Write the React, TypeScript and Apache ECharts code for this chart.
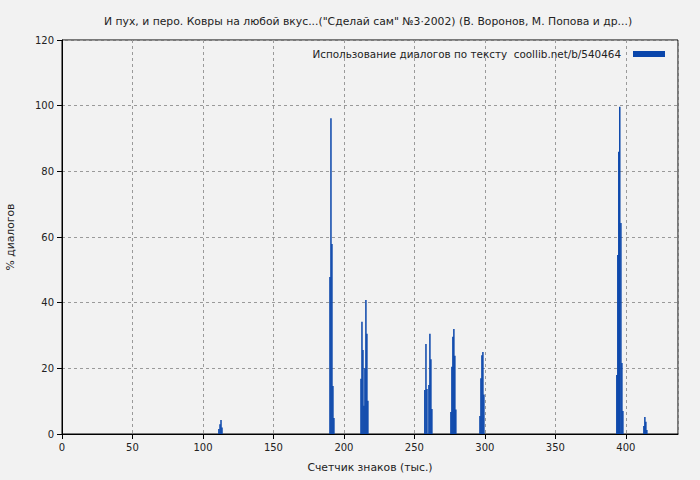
import React, { useEffect, useRef } from "react";
import * as echarts from "echarts";

const title =
  'И пух, и перо. Ковры на любой вкус...("Сделай сам" №3·2002) (В. Воронов, М. Попова и др...)';
const seriesName = "Использование диалогов по тексту  coollib.net/b/540464";
const xAxisName = "Счетчик знаков (тыс.)";
const yAxisName = "% диалогов";

// positions (thousand characters) and dialogue percentage
const xs: number[] = [
  111.3, 112.1, 112.8, 113.5,
  190.1, 190.8, 191.5, 192.2, 192.9,
  212.1, 212.8, 213.5, 214.2, 214.9, 215.6, 216.3, 217.0,
  257.4, 258.2, 258.9, 260.3, 261.0, 261.7, 262.4,
  275.9, 276.6, 277.3, 278.0, 278.7, 279.4,
  296.5, 297.2, 297.9, 298.6, 299.3,
  393.6, 394.3, 395.0, 395.7, 396.5, 397.2, 397.9,
  412.8, 413.5, 414.2, 414.9,
];
const ys: number[] = [
  1.5, 3, 4.3, 2,
  47.8, 96.2, 57.9, 14.6, 4.9,
  16.8, 34.2, 25.6, 8.6, 20, 40.8, 30.5, 10.1,
  13.4, 27.4, 13.7, 14.9, 30.5, 22.8, 7.6,
  6.7, 20.5, 29.6, 32, 23.8, 7.5,
  5.5, 17, 24, 25, 12,
  18, 54.5, 86, 99.7, 64.3, 21.6, 7,
  2.4, 5.2, 3.7, 1.2,
];

const FONT = "DejaVu Sans";

export default function App() {
  const ref = useRef<HTMLDivElement>(null);
  useEffect(() => {
    if (!ref.current) return;
    const chart = echarts.init(ref.current, null, { renderer: "svg" });
    const gridLine = { show: true, lineStyle: { color: "#9a9a9a", type: [3, 3] as any, width: 1 } };
    chart.setOption({
      animation: false,
      backgroundColor: "#f2f2f2",
      textStyle: { fontFamily: FONT },
      title: {
        text: title,
        left: 99,
        top: 11,
        textStyle: { fontFamily: FONT, fontSize: 10.8, fontWeight: "normal", color: "#222" },
      },
      legend: {
        right: 30,
        top: 44,
        align: "right",
        itemWidth: 32,
        itemHeight: 6,
        itemGap: 0,
        textStyle: { fontFamily: FONT, fontSize: 10.4, color: "#222", padding: [0, 7, 0, 0] },
        data: [{ name: seriesName, icon: "rect" }],
      },
      grid: {
        left: 62,
        right: 22,
        top: 40,
        bottom: 46,
        show: true,
        borderColor: "#000",
        borderWidth: 1,
        backgroundColor: "transparent",
        containLabel: false,
        outerBoundsMode: "none",
      },
      xAxis: {
        type: "value",
        min: 0,
        max: 437,
        interval: 50,
        name: xAxisName,
        nameLocation: "middle",
        nameGap: 28,
        nameTextStyle: { fontFamily: FONT, fontSize: 10.8, color: "#222" },
        axisLine: { show: true, lineStyle: { color: "#000" } },
        axisTick: { show: true, length: 5, lineStyle: { color: "#000" } },
        axisLabel: { fontFamily: FONT, fontSize: 10, color: "#222", margin: 8, showMaxLabel: false },
        splitLine: gridLine,
      },
      yAxis: {
        type: "value",
        min: 0,
        max: 120,
        interval: 20,
        name: yAxisName,
        nameLocation: "middle",
        nameGap: 46,
        nameTextStyle: { fontFamily: FONT, fontSize: 10.8, color: "#222" },
        axisLine: { show: true, lineStyle: { color: "#000" } },
        axisTick: { show: true, length: 5, lineStyle: { color: "#000" } },
        axisLabel: { fontFamily: FONT, fontSize: 10, color: "#222", margin: 8 },
        splitLine: gridLine,
      },
      series: [
        {
          name: seriesName,
          type: "bar",
          barWidth: 1.5,
          itemStyle: { color: "#0a46ab" },
          data: xs.map((x, i) => [x, ys[i]]),
        },
      ],
    });
    return () => chart.dispose();
  }, []);
  return <div ref={ref} style={{ width: 700, height: 480, position: "absolute", left: 0, top: 0 }} />;
}
